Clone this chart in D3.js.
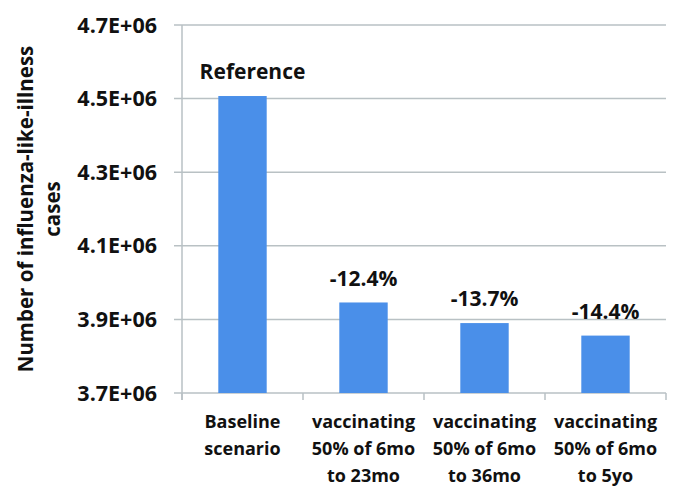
<!DOCTYPE html>
<html><head><meta charset="utf-8">
<script src="https://cdn.jsdelivr.net/npm/d3@7"></script>
<style>body{margin:0;background:#fff}svg{display:block}text{font-family:"Open Sans",sans-serif;font-weight:bold;fill:#111}</style>
</head><body><svg id="c" width="700" height="503"></svg>
<script>
const categories = [
  ["Baseline", "scenario"],
  ["vaccinating", "50% of 6mo", "to 23mo"],
  ["vaccinating", "50% of 6mo", "to 36mo"],
  ["vaccinating", "50% of 6mo", "to 5yo"]
];
const values = [4507000, 3946000, 3890000, 3856000];
const barLabels = ["Reference", "-12.4%", "-13.7%", "-14.4%"];
const yTicks = [3.7e6, 3.9e6, 4.1e6, 4.3e6, 4.5e6, 4.7e6];
const yTickLabels = ["3.7E+06", "3.9E+06", "4.1E+06", "4.3E+06", "4.5E+06", "4.7E+06"];
const yTitle = ["Number of influenza-like-illness", "cases"];

const svg = d3.select("#c");
const m = {l: 182, r: 34, t: 25, b: 110};
const W = 700, H = 503;
const y = d3.scaleLinear().domain([3.7e6, 4.7e6]).range([H - m.b, m.t]);
const x = d3.scaleBand().domain(d3.range(categories.length)).range([m.l, W - m.r]).paddingInner(0.6).paddingOuter(0.3);
const grid = "#b9c1c4";

// gridlines
svg.append("g").selectAll("line").data(yTicks).join("line")
  .attr("x1", m.l - 8).attr("x2", W - m.r)
  .attr("y1", d => y(d)).attr("y2", d => y(d))
  .attr("stroke", grid).attr("stroke-width", 1.5);

// y axis line
svg.append("line").attr("x1", m.l).attr("x2", m.l).attr("y1", m.t).attr("y2", y(3.7e6) + 7)
  .attr("stroke", grid).attr("stroke-width", 1.5);

// y tick labels
svg.append("g").selectAll("text").data(yTicks).join("text")
  .attr("x", m.l - 25).attr("y", d => y(d)).attr("dy", "0.35em")
  .attr("text-anchor", "end").style("font-size", "21.5px")
  .text((d, i) => yTickLabels[i]);

// x category ticks
const step = x.step();
const edges = d3.range(categories.length + 1).map(i => m.l + i * step);
svg.append("g").selectAll("line").data(edges).join("line")
  .attr("x1", d => d).attr("x2", d => d)
  .attr("y1", y(3.7e6)).attr("y2", y(3.7e6) + 7)
  .attr("stroke", grid).attr("stroke-width", 1.5);

// bars
svg.append("g").selectAll("rect").data(values).join("rect")
  .attr("x", (d, i) => x(i)).attr("width", x.bandwidth())
  .attr("y", d => y(d)).attr("height", d => y(3.7e6) - y(d))
  .attr("fill", "#4a8fe9");

// bar labels
svg.append("g").selectAll("text").data(values).join("text")
  .attr("x", (d, i) => x(i) + x.bandwidth() / 2 + (i === 0 ? 10 : 0))
  .attr("y", d => y(d) - 24).attr("dy", "0.35em")
  .attr("text-anchor", "middle").style("font-size", "21px")
  .text((d, i) => barLabels[i]);

// category labels
const cl = svg.append("g").selectAll("text").data(categories).join("text")
  .attr("x", (d, i) => x(i) + x.bandwidth() / 2)
  .attr("y", 428).attr("text-anchor", "middle").style("font-size", "18px");
cl.selectAll("tspan").data(d => d).join("tspan")
  .attr("x", function() { return d3.select(this.parentNode).attr("x"); })
  .attr("dy", (d, i) => i === 0 ? 0 : 27).text(d => d);

// y title
const yt = svg.append("text").attr("transform", "translate(33," + ((m.t + y(3.7e6)) / 2) + ") rotate(-90)")
  .attr("text-anchor", "middle").style("font-size", "20.5px");
yt.selectAll("tspan").data(yTitle).join("tspan").attr("x", 0).attr("dy", (d, i) => i === 0 ? 0 : 27).text(d => d);
</script></body></html>
